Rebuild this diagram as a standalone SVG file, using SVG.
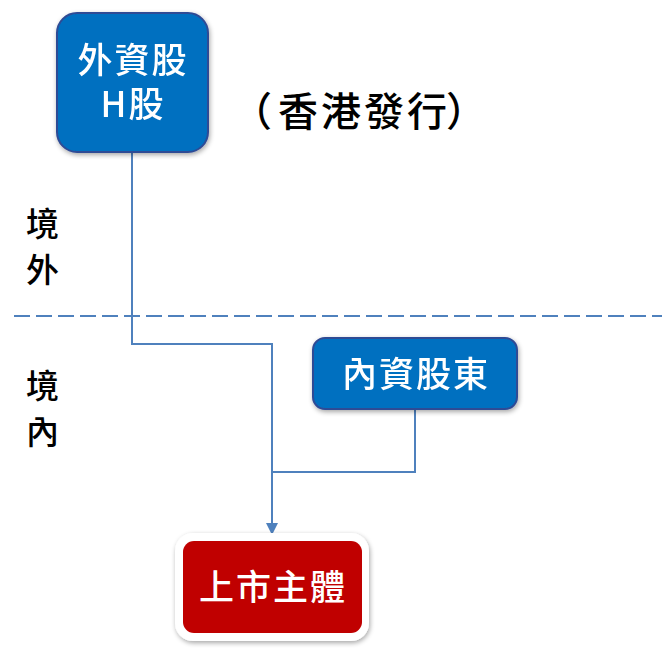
<svg xmlns="http://www.w3.org/2000/svg" width="662" height="654" viewBox="0 0 662 654">
<style>
.lbl{font-family:"Noto Sans CJK TC","Noto Sans CJK SC",sans-serif;fill:#000;font-size:33px;font-weight:500}
.nt{font-family:"Noto Sans CJK TC","Noto Sans CJK SC",sans-serif;fill:#fff;font-size:35px;font-weight:500;text-anchor:middle;letter-spacing:2px}
.blue{fill:#0070C0;stroke:#2F4B95;stroke-width:2}
.conn{fill:none;stroke:#4F81BD;stroke-width:2}
</style>
<defs>
<filter id="sh" x="-20%" y="-20%" width="140%" height="140%">
<feGaussianBlur in="SourceAlpha" stdDeviation="2.5"/>
<feOffset dx="1" dy="2" result="b"/>
<feComponentTransfer><feFuncA type="linear" slope="0.35"/></feComponentTransfer>
<feMerge><feMergeNode/><feMergeNode in="SourceGraphic"/></feMerge>
</filter>
<marker id="arr" viewBox="0 0 12 12" refX="12" refY="6" markerWidth="12" markerHeight="12" markerUnits="userSpaceOnUse" orient="auto">
<path d="M0,0 L12,6 L0,12 Z" fill="#4F81BD"/>
</marker>
</defs>
<rect width="662" height="654" fill="#fff"/>
<line x1="14" y1="316" x2="662" y2="316" stroke="#4F81BD" stroke-width="2" stroke-dasharray="16 6"/>
<text class="lbl" x="26" y="236">境</text>
<text class="lbl" x="26" y="282">外</text>
<text class="lbl" x="26" y="398">境</text>
<text class="lbl" x="26" y="444">內</text>
<text class="lbl" y="126" style="font-size:40px;letter-spacing:3px"><tspan x="232">（</tspan><tspan x="278">香港發行</tspan><tspan x="446">）</tspan></text>
<g id="connectors">
<polyline class="conn" points="132,152 132,344 272,344 272,535" marker-end="url(#arr)"/>
<polyline class="conn" points="415,409 415,472 272,472"/>
</g>
<g id="node-h" filter="url(#sh)">
<rect class="blue" x="57" y="13" width="151" height="139" rx="20"/>
<text class="nt" x="133" y="73">外資股</text>
<text class="nt" x="133" y="117">H股</text>
</g>
<g id="node-domestic" filter="url(#sh)">
<rect class="blue" x="313" y="338" width="204" height="71" rx="12"/>
<text class="nt" x="416" y="387">內資股東</text>
</g>
<g id="node-listed">
<rect x="175" y="533" width="194" height="108" rx="18" fill="#fff" filter="url(#sh)"/>
<rect x="183" y="541" width="179" height="92" rx="11" fill="#C00000"/>
<text class="nt" x="273" y="600">上市主體</text>
</g>
</svg>
